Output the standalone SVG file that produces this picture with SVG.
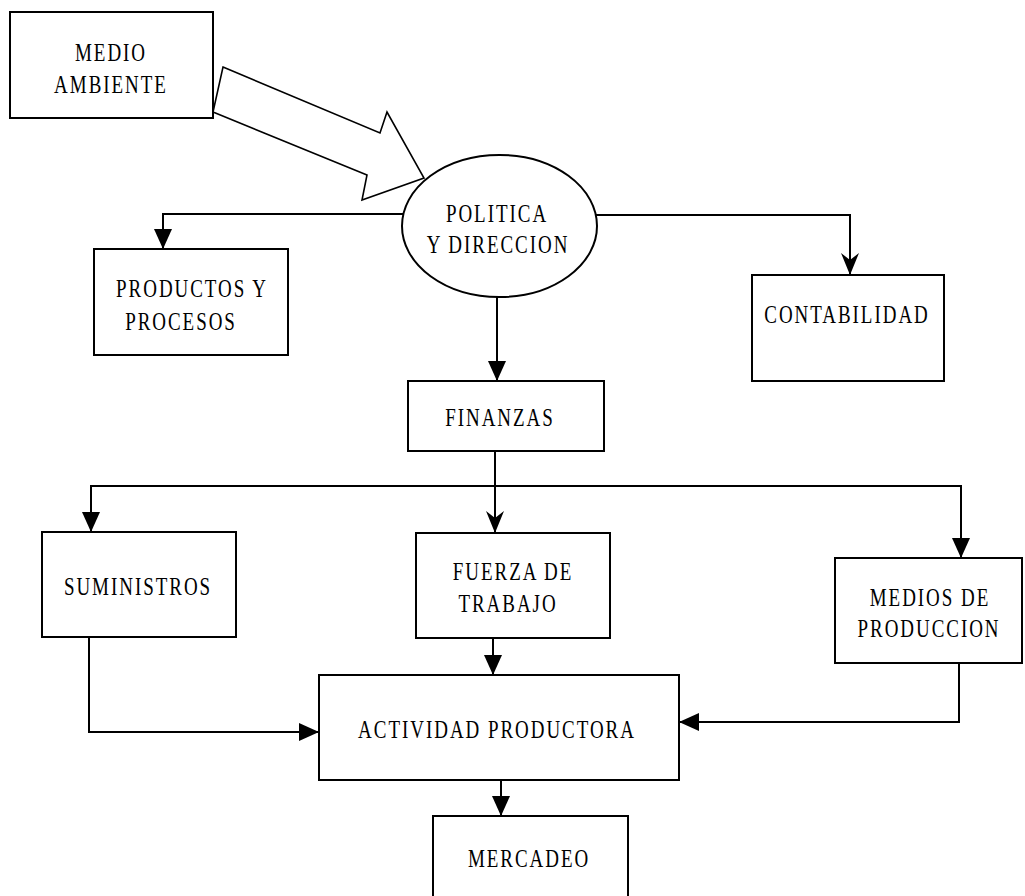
<svg xmlns="http://www.w3.org/2000/svg" width="1025" height="896" viewBox="0 0 1025 896">
  <defs>
    <style>
      .box { fill: #fff; stroke: #000; stroke-width: 2; }
      .wire { fill: none; stroke: #000; stroke-width: 2; }
      .big { fill: #fff; stroke: #000; stroke-width: 1.6; stroke-linejoin: miter; }
      .lbl { font-family: "Liberation Serif", "Times New Roman", serif; font-size: 26px; letter-spacing: 2.7px; fill: #000; text-anchor: middle; }
    </style>
    <!-- solid triangular head -->
    <marker id="tri" markerUnits="userSpaceOnUse" markerWidth="20" markerHeight="18" refX="20" refY="9" orient="auto">
      <path d="M0,0 L20,9 L0,18 Z" fill="#000"/>
    </marker>
    <!-- dart head with notched back -->
    <marker id="dart" markerUnits="userSpaceOnUse" markerWidth="22" markerHeight="18" refX="22" refY="9" orient="auto">
      <path d="M0,0 L22,9 L0,18 L7,9 Z" fill="#000"/>
    </marker>
  </defs>

  <rect width="1025" height="896" fill="#fff"/>

  <!-- connectors -->
  <g id="connectors">
    <polygon class="big" points="223,67 380,133 387,112 424,178 362,200 367,175 213,112"/>
    <path class="wire" d="M403,214 H163 V249" marker-end="url(#tri)"/>
    <path class="wire" d="M596,215 H850 V275" marker-end="url(#dart)"/>
    <path class="wire" d="M497,297 V381" marker-end="url(#tri)"/>
    <path class="wire" d="M495,451 V533" marker-end="url(#dart)"/>
    <path class="wire" d="M495,486 H91 V532" marker-end="url(#tri)"/>
    <path class="wire" d="M495,486 H961 V558" marker-end="url(#tri)"/>
    <path class="wire" d="M493,638 V675" marker-end="url(#tri)"/>
    <path class="wire" d="M89,637 V732 H319" marker-end="url(#tri)"/>
    <path class="wire" d="M959,663 V722 H679" marker-end="url(#tri)"/>
    <path class="wire" d="M501,780 V816" marker-end="url(#tri)"/>
  </g>

  <g id="medio-ambiente">
    <rect class="box" x="10" y="12" width="203" height="106"/>
    <text class="lbl" transform="translate(111,61) scale(0.73,1)">MEDIO</text>
    <text class="lbl" transform="translate(111,93) scale(0.73,1)">AMBIENTE</text>
  </g>

  <g id="politica-direccion">
    <ellipse class="box" cx="499.5" cy="226" rx="97.5" ry="71"/>
    <text class="lbl" transform="translate(497,222) scale(0.73,1)">POLITICA</text>
    <text class="lbl" transform="translate(498,253) scale(0.73,1)">Y DIRECCION</text>
  </g>

  <g id="productos-procesos">
    <rect class="box" x="94" y="249" width="194" height="106"/>
    <text class="lbl" transform="translate(192,297) scale(0.73,1)">PRODUCTOS Y</text>
    <text class="lbl" transform="translate(181,330) scale(0.73,1)">PROCESOS</text>
  </g>

  <g id="contabilidad">
    <rect class="box" x="752" y="275" width="192" height="106"/>
    <text class="lbl" transform="translate(847,323) scale(0.73,1)">CONTABILIDAD</text>
  </g>

  <g id="finanzas">
    <rect class="box" x="408" y="381" width="196" height="70"/>
    <text class="lbl" transform="translate(500,426) scale(0.73,1)">FINANZAS</text>
  </g>

  <g id="suministros">
    <rect class="box" x="42" y="532" width="194" height="105"/>
    <text class="lbl" transform="translate(138,595) scale(0.73,1)">SUMINISTROS</text>
  </g>

  <g id="fuerza-trabajo">
    <rect class="box" x="416" y="533" width="194" height="105"/>
    <text class="lbl" transform="translate(513,580) scale(0.73,1)">FUERZA DE</text>
    <text class="lbl" transform="translate(508,612) scale(0.73,1)">TRABAJO</text>
  </g>

  <g id="medios-produccion">
    <rect class="box" x="835" y="558" width="187" height="105"/>
    <text class="lbl" transform="translate(930,606) scale(0.73,1)">MEDIOS DE</text>
    <text class="lbl" transform="translate(929,637) scale(0.73,1)">PRODUCCION</text>
  </g>

  <g id="actividad-productora">
    <rect class="box" x="319" y="675" width="360" height="105"/>
    <text class="lbl" transform="translate(497,738) scale(0.73,1)">ACTIVIDAD PRODUCTORA</text>
  </g>

  <g id="mercadeo">
    <rect class="box" x="433" y="816" width="195" height="92"/>
    <text class="lbl" transform="translate(529,867) scale(0.73,1)">MERCADEO</text>
  </g>
</svg>
